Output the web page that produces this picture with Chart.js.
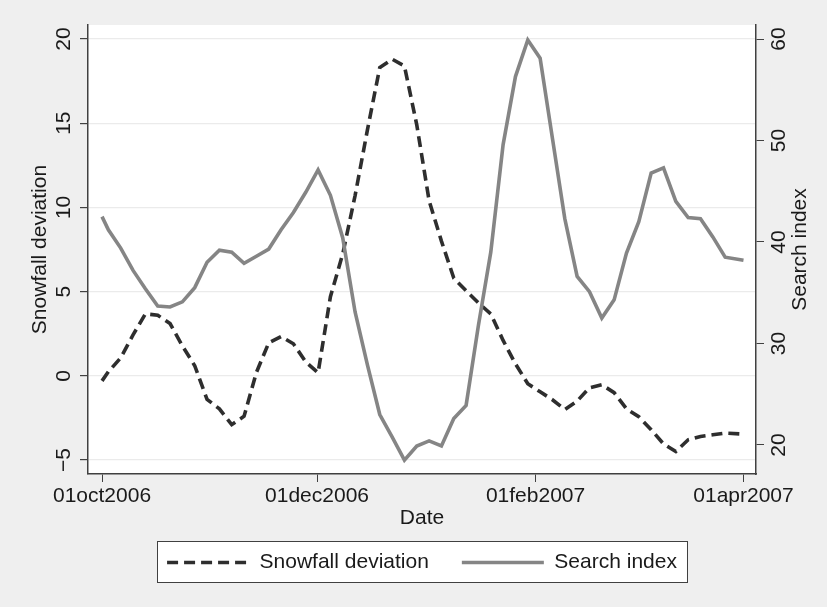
<!DOCTYPE html>
<html>
<head>
<meta charset="utf-8">
<script src="https://cdn.jsdelivr.net/npm/chart.js@4.4.1/dist/chart.umd.min.js"></script>
<style>
  html, body { margin: 0; padding: 0; background: #efefef; }
  #snowChart { display: block; }
</style>
</head>
<body>
<canvas id="snowChart" width="827" height="607"></canvas>
<script>
// days since 01oct2006
const days = [0, 1.8, 5.3, 8.8, 12.3, 15.8, 19.3, 22.8, 26.3, 29.8, 33.3, 36.8, 40.3, 43.8, 47.3, 50.8,
  54.3, 57.8, 61.3, 64.8, 68.3, 71.8, 75.3, 78.8, 82.3, 85.8, 89.3, 92.8, 96.3, 99.8, 103.3, 106.8,
  110.3, 113.8, 117.3, 120.8, 124.3, 127.8, 131.3, 134.8, 138.3, 141.8, 145.3, 148.8, 152.3, 155.8,
  159.3, 162.8, 166.3, 169.8, 173.3, 176.8, 182];

const snowfall = [-0.3, 0.24, 1.07, 2.43, 3.68, 3.6, 3.1, 1.78, 0.6, -1.4, -1.96, -2.9, -2.4, 0.2,
  1.96, 2.33, 1.9, 0.83, 0.18, 4.7, 7.24, 10.7, 14.6, 18.3, 18.8, 18.4, 14.9, 10.4, 8.0, 5.8, 5.05,
  4.33, 3.68, 2.1, 0.71, -0.47, -0.95, -1.42, -2.0, -1.5, -0.71, -0.53, -1.0, -1.96, -2.43, -3.2,
  -4.04, -4.5, -3.8, -3.6, -3.5, -3.4, -3.46];

const searchIdx = [42.5, 41.2, 39.4, 37.2, 35.4, 33.7, 33.6, 34.1, 35.5, 38.0, 39.2, 39.0, 37.9, 38.6,
  39.3, 41.2, 42.9, 44.9, 47.1, 44.6, 40.4, 33.1, 27.9, 23.0, 20.8, 18.5, 19.9, 20.4, 19.9, 22.6, 23.9,
  31.8, 39.0, 49.6, 56.3, 59.9, 58.1, 50.2, 42.3, 36.6, 35.1, 32.5, 34.3, 38.9, 42.0, 46.8, 47.3, 44.0,
  42.4, 42.3, 40.5, 38.5, 38.2];

const dateTicks = [0, 61, 123, 182];
const dateLabels = ['01oct2006', '01dec2006', '01feb2007', '01apr2007'];
const snowTicks = [-5, 0, 5, 10, 15, 20];
const searchTicks = [20, 30, 40, 50, 60];

const ink = '#1a1a1a';
const axisCol = '#404040';
Chart.defaults.font.family = "'Liberation Sans', Arial, sans-serif";
Chart.defaults.font.size = 21;
Chart.defaults.color = ink;

const backdrop = {
  id: 'backdrop',
  beforeDraw(chart) {
    const { ctx, chartArea: a } = chart;
    ctx.save();
    ctx.fillStyle = '#efefef';
    ctx.fillRect(0, 0, chart.width, chart.height);
    ctx.fillStyle = '#ffffff';
    ctx.fillRect(a.left, a.top, a.right - a.left, a.bottom - a.top);
    // frame round the legend
    var hb = chart.legend.legendHitBoxes;
    if (hb && hb.length) {
      var l = hb[0].left - 10,
        r = hb[hb.length - 1].left + hb[hb.length - 1].width + 10,
        t = hb[0].top - 11,
        b = hb[0].top + hb[0].height + 9;
      ctx.fillRect(l, t, r - l, b - t);
      ctx.strokeStyle = axisCol;
      ctx.lineWidth = 1;
      ctx.strokeRect(Math.round(l) + 0.5, Math.round(t) + 0.5, Math.round(r - l), Math.round(b - t));
    }
    ctx.restore();
  },
  afterDraw(chart) {
    // right axis title reads bottom to top, like the left one
    const { ctx, chartArea: a } = chart;
    const s = chart.scales.y2;
    ctx.save();
    ctx.translate(s.left + 44, (a.top + a.bottom) / 2);
    ctx.rotate(-Math.PI / 2);
    ctx.font = "21px 'Liberation Sans', Arial, sans-serif";
    ctx.fillStyle = ink;
    ctx.textAlign = 'center';
    ctx.textBaseline = 'middle';
    ctx.fillText('Search index', 0, 0);
    ctx.restore();
  }
};

const toPts = (vals) => days.map((d, i) => ({ x: d, y: vals[i] }));
const minus = (v) => v < 0 ? '\u2212' + Math.abs(v) : String(v);

// legend samples take the line style of each dataset
const legendItems = (chart) => {
  var items = Chart.defaults.plugins.legend.labels.generateLabels(chart);
  items.forEach(item => {
    var ds = chart.data.datasets[item.datasetIndex];
    item.lineDash = ds.borderDash || [];
    item.lineWidth = ds.borderWidth;
    item.strokeStyle = ds.borderColor;
    item.lineCap = 'butt';
  });
  return items;
};

new Chart('snowChart', {
  type: 'line',
  data: {
    datasets: [{
      label: 'Snowfall deviation',
      data: toPts(snowfall),
      yAxisID: 'y',
      borderColor: '#2e2e2e',
      backgroundColor: '#2e2e2e',
      borderWidth: 3.6,
      borderDash: [11, 6],
      pointRadius: 0,
      tension: 0,
      order: 1
    }, {
      label: 'Search index',
      data: toPts(searchIdx),
      yAxisID: 'y2',
      borderColor: '#858585',
      backgroundColor: '#858585',
      borderWidth: 3.6,
      pointRadius: 0,
      tension: 0,
      order: 0
    }]
  },
  options: {
    responsive: false,
    animation: false,
    devicePixelRatio: 1,
    layout: { padding: { left: 17, right: 0, top: 25, bottom: 24 } },
    plugins: {
      tooltip: { enabled: false },
      legend: {
        position: 'bottom',
        labels: {
          usePointStyle: true,
          pointStyle: 'line',
          pointStyleWidth: 82,
          padding: 33,
          color: ink,
          generateLabels: legendItems,
          sort: (a, b) => a.datasetIndex - b.datasetIndex
        }
      }
    },
    scales: {
      x: {
        type: 'linear',
        min: -3.98,
        max: 185.55,
        afterBuildTicks: (s) => { s.ticks = dateTicks.map(v => ({ value: v })); },
        afterFit: (s) => { s.height = 45; },
        ticks: {
          autoSkip: false,
          maxRotation: 0,
          padding: 2,
          callback: (v) => dateLabels[dateTicks.indexOf(v)]
        },
        grid: { drawOnChartArea: false, tickLength: 8, tickColor: axisCol },
        border: { color: axisCol, width: 1.5 },
        title: { display: true, text: 'Date', padding: { top: 0, bottom: -12 } }
      },
      y: {
        position: 'left',
        min: -5.83,
        max: 20.83,
        afterBuildTicks: (s) => { s.ticks = snowTicks.map(v => ({ value: v })); },
        afterFit: (s) => { s.width = 71; },
        ticks: {
          autoSkip: false,
          minRotation: 90,
          maxRotation: 90,
          crossAlign: 'center',
          padding: 4,
          callback: minus
        },
        grid: { color: '#ebebeb', lineWidth: 1.2, tickLength: 8, tickColor: axisCol },
        border: { color: axisCol, width: 1.5 },
        title: { display: true, text: 'Snowfall deviation', padding: { top: 11, bottom: 0 } }
      },
      y2: {
        position: 'right',
        min: 17.14,
        max: 61.38,
        afterBuildTicks: (s) => { s.ticks = searchTicks.map(v => ({ value: v })); },
        afterFit: (s) => { s.width = 71; },
        ticks: {
          autoSkip: false,
          minRotation: 90,
          maxRotation: 90,
          crossAlign: 'center',
          padding: 4
        },
        grid: { drawOnChartArea: false, tickLength: 8, tickColor: axisCol },
        border: { color: axisCol, width: 1.5 }
      }
    }
  },
  plugins: [backdrop]
});
</script>
</body>
</html>
